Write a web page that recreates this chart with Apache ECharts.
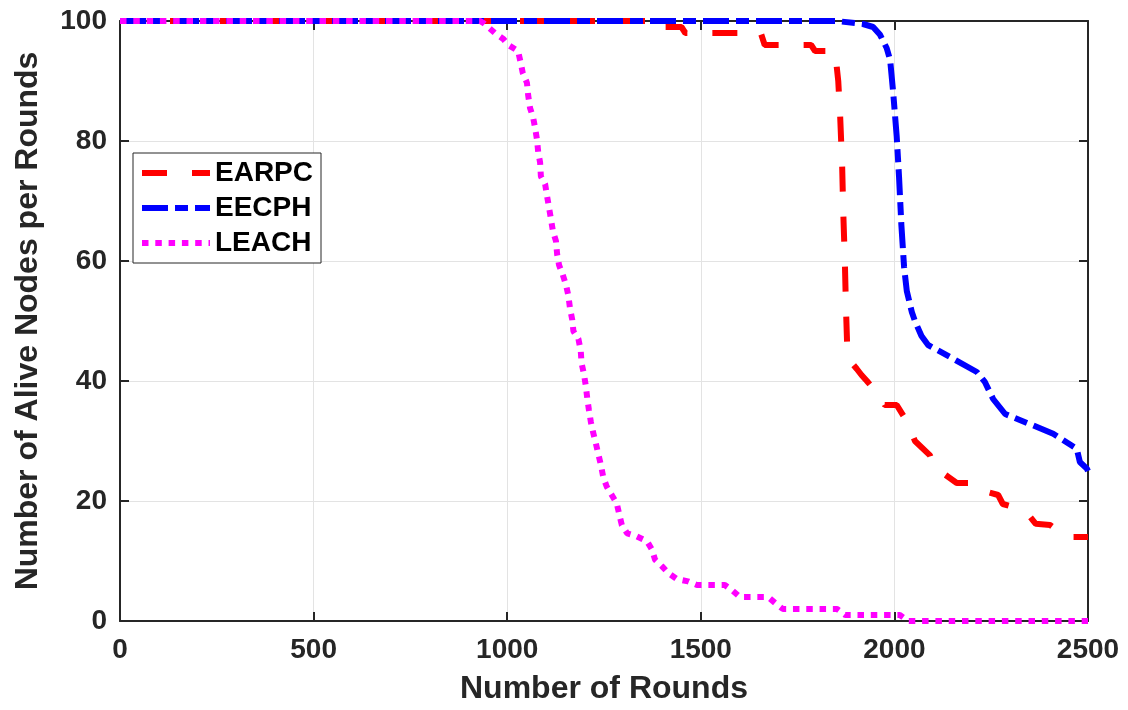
<!DOCTYPE html>
<html>
<head>
<meta charset="utf-8">
<script src="https://cdn.jsdelivr.net/npm/echarts@6/dist/echarts.min.js"></script>
<style>
html,body{margin:0;padding:0;background:#fff;}
#chart{width:1128px;height:710px;}
</style>
</head>
<body>
<div id="chart"></div>
<script>
const seriesNames = ['EARPC', 'EECPH', 'LEACH'];
const xTicks = [0, 500, 1000, 1500, 2000, 2500];
const yTicks = [0, 20, 40, 60, 80, 100];

// [round, alive nodes]
const earpc = [
  [0,100],[1400,100],[1405,99],[1450,99],[1460,98],[1655,98],[1665,96],[1785,96],[1795,95],
  [1845,95],[1850,93],[1855,90],[1860,84],[1865,76],[1868,68],[1872,60],[1875,52],[1878,46],
  [1890,43],[1903,42],[1915,41],[1929,40],[1963,37.4],[1975,36],[2006,36],[2035,33],[2053,30],
  [2092,27.6],[2100,26],[2118,25],[2161,23],[2200,23],[2213,22],[2268,21],[2280,19.5],[2306,19],
  [2350,17.4],[2365,16.2],[2402,16],[2445,14],[2500,14]
];
const eecph = [
  [0,100],[1850,100],[1919,99.5],[1945,99],[1963,97.7],[1980,95.5],[1989,93.5],[1997,88],
  [2006,80.7],[2012,74],[2018,66],[2025,59],[2032,55],[2045,51.5],[2053,50],[2070,47.5],
  [2087,46],[2144,44],[2213,41.5],[2234,39.8],[2255,37],[2286,34.5],[2358,32.6],[2410,31.2],
  [2471,28.7],[2479,26.5],[2497,25.4],[2500,25]
];
const leach = [
  [0,100],[930,100],[938,99.7],[968,98],[990,97],[1003,96],[1028,95],[1035,93],[1040,91.4],
  [1051,89.7],[1054,87.7],[1059,85.5],[1067,83.9],[1072,82.2],[1077,80.2],[1080,78.2],[1085,76.4],
  [1087,74.1],[1098,72.8],[1103,70.8],[1108,68.9],[1113,67],[1118,65],[1126,63.3],[1129,61.1],
  [1134,59.3],[1143,57.8],[1152,56],[1158,54.2],[1162,52.2],[1168,50.2],[1171,48.3],[1184,47],
  [1190,45],[1192,43],[1198,41.2],[1203,39.2],[1207,37],[1211,35.2],[1216,33.2],[1222,31.4],
  [1229,29.6],[1235,27.9],[1242,26],[1248,24],[1257,22.4],[1270,21],[1283,19.6],[1290,17.6],
  [1296,16],[1310,14.6],[1335,14.1],[1361,13.3],[1374,11.9],[1382,10.2],[1400,9.1],[1416,8],
  [1438,7],[1467,6.6],[1490,6],[1562,6],[1583,5],[1601,4],[1674,4],[1692,3],[1712,2],[1852,2],
  [1873,1],[2014,1],[2036,0],[2500,0]
];

const FONT = "'Liberation Sans', Arial, sans-serif";
const AX = '#262626';
const chart = echarts.init(document.getElementById('chart'), null, {renderer: 'canvas'});

function mkX(pos, labels) {
  return {
    type: 'value', position: pos, min: xTicks[0], max: xTicks[xTicks.length-1], interval: 500,
    axisLine: {show: true, onZero: false, lineStyle: {color: AX, width: 2}},
    axisTick: {show: true, inside: true, length: 9, lineStyle: {color: AX, width: 2}},
    axisLabel: {show: labels, margin: 15, fontFamily: FONT, fontWeight: 'bold', fontSize: 28, color: AX,
      formatter: v => String(v)},
    splitLine: {show: labels, lineStyle: {color: '#e3e3e3', width: 1}},
    name: labels ? 'Number of Rounds' : '', nameLocation: 'middle', nameGap: 52,
    nameTextStyle: {fontFamily: FONT, fontWeight: 'bold', fontSize: 32, color: AX}
  };
}
function mkY(pos, labels) {
  return {
    type: 'value', position: pos, min: yTicks[0], max: yTicks[yTicks.length-1], interval: 20,
    axisLine: {show: true, onZero: false, lineStyle: {color: AX, width: 2}},
    axisTick: {show: true, inside: true, length: 9, lineStyle: {color: AX, width: 2}},
    axisLabel: {show: labels, margin: 13, fontFamily: FONT, fontWeight: 'bold', fontSize: 28, color: AX,
      formatter: v => String(v)},
    splitLine: {show: labels, lineStyle: {color: '#e3e3e3', width: 1}},
    name: labels ? 'Number of Alive Nodes per Rounds' : '', nameLocation: 'middle', nameGap: 76,
    nameTextStyle: {fontFamily: FONT, fontWeight: 'bold', fontSize: 32, color: AX}
  };
}

const styles = [
  {color: '#ff0000', type: [25, 25]},
  {color: '#0000ff', type: [26, 7, 13, 7]},
  {color: '#ff00ff', type: [6.5, 6.8]}
];
const datas = [earpc, eecph, leach];

chart.setOption({
  animation: false,
  backgroundColor: '#fff',
  grid: {left: 120, right: 40, top: 21, bottom: 87, containLabel: false},
  xAxis: [mkX('bottom', true), mkX('top', false)],
  yAxis: [mkY('left', true), mkY('right', false)],
  legend: {
    orient: 'vertical', left: 133, top: 153,
    padding: [6, 8, 6, 6], itemGap: 7, itemWidth: 68, itemHeight: 14,
    backgroundColor: '#fff', borderColor: AX, borderWidth: 1, borderRadius: 0,
    itemStyle: {opacity: 0, borderWidth: 0},
    lineStyle: {width: 6, cap: 'butt'},
    textStyle: {fontFamily: FONT, fontWeight: 'bold', fontSize: 28, color: '#000'},
    data: seriesNames
  },
  series: seriesNames.map((n, i) => ({
    name: n, type: 'line', xAxisIndex: 0, yAxisIndex: 0,
    data: datas[i], showSymbol: false, symbol: 'none', smooth: false, clip: false,
    lineStyle: {color: styles[i].color, width: 6, type: styles[i].type, cap: 'butt'},
    itemStyle: {color: styles[i].color},
    z: 2 + i
  }))
});
</script>
</body>
</html>
